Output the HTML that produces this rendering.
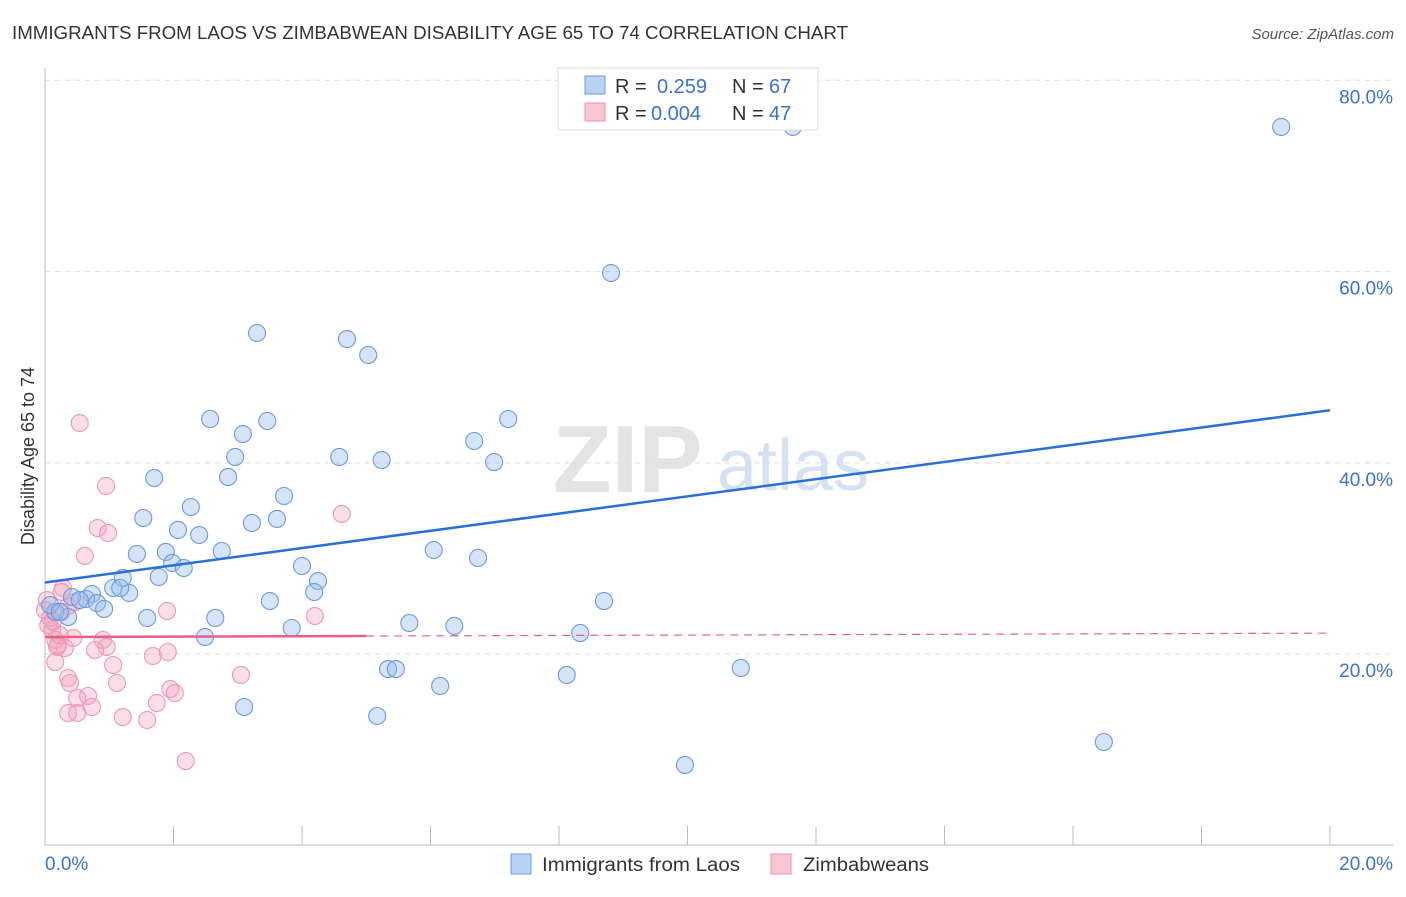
<!DOCTYPE html>
<html><head><meta charset="utf-8"><style>
body{margin:0;background:#fff;font-family:"Liberation Sans",sans-serif;}
svg text{font-family:"Liberation Sans",sans-serif;}
</style></head><body>
<svg id="chart" width="1406" height="892" xmlns="http://www.w3.org/2000/svg">
<text x="12" y="39" font-size="18" fill="#333" textLength="836" lengthAdjust="spacingAndGlyphs">IMMIGRANTS FROM LAOS VS ZIMBABWEAN DISABILITY AGE 65 TO 74 CORRELATION CHART</text>
<text x="1394" y="39" font-size="15" fill="#555" font-style="italic" text-anchor="end">Source: ZipAtlas.com</text>
<g>
<text x="553" y="492" font-size="96" fill="#e4e4e4" font-family="Liberation Serif" font-weight="bold">ZIP</text>
<text x="717" y="490" font-size="72" fill="#d4e2f4">atlas</text>
</g>
<g id="grid"></g>
<g id="axes"></g>
<g id="marks"></g>
<text transform="translate(34,456) rotate(-90)" font-size="18" fill="#333" text-anchor="middle">Disability Age 65 to 74</text>
<g>
<rect x="558" y="68" width="260" height="62" fill="#fff" stroke="#ddd"/>
<rect x="585" y="76" width="20" height="18" fill="#b8d2f4" stroke="#6a9be0"/>
<text x="615" y="93" font-size="20" fill="#333">R = <tspan fill="#3a72d0" x="657">0.259</tspan><tspan x="732" fill="#333">N = </tspan><tspan fill="#3a72d0" x="769">67</tspan></text>
<rect x="585" y="103" width="20" height="18" fill="#f9c6d4" stroke="#ec8fac"/>
<text x="615" y="120" font-size="20" fill="#333">R = <tspan fill="#3a72d0" x="651">0.004</tspan><tspan x="732" fill="#333">N = </tspan><tspan fill="#3a72d0" x="769">47</tspan></text>
</g>
<g>
<rect x="511" y="854" width="20" height="20" fill="#b8d2f4" stroke="#6a9be0"/>
<text x="542" y="871" font-size="19" fill="#333" textLength="198" lengthAdjust="spacingAndGlyphs">Immigrants from Laos</text>
<rect x="771" y="854" width="20" height="20" fill="#f9c6d4" stroke="#ec8fac"/>
<text x="803" y="871" font-size="19" fill="#333" textLength="126" lengthAdjust="spacingAndGlyphs">Zimbabweans</text>
</g>
</svg>
<script>
const yTicks=[20,40,60,80];
const yTickLabels=["20.0%","40.0%","60.0%","80.0%"];
const xTicks=[0,2,4,6,8,10,12,14,16,18,20];
const xTickLabels=["0.0%","20.0%"];
const laosX=[11.64,19.24,8.81,3.30,4.70,5.03,2.57,3.46,7.21,3.08,6.68,2.96,4.58,5.24,6.99,1.70,2.85,2.27,1.53,3.72,3.22,3.61,2.07,2.40,1.43,1.88,2.75,6.05,6.74,1.98,2.16,4.00,1.77,1.21,4.25,4.19,1.06,1.31,1.17,0.73,0.64,0.42,0.54,0.81,0.92,3.50,8.70,1.59,2.65,0.36,0.16,0.08,0.23,5.67,6.37,3.84,8.33,2.49,5.34,5.46,10.83,8.12,6.15,3.10,5.17,16.48,9.96];
const laosY=[75.12,75.12,59.85,53.58,52.95,51.28,44.59,44.38,44.59,43.02,42.29,40.62,40.62,40.30,40.09,38.42,38.53,35.39,34.24,36.54,33.72,34.14,32.99,32.46,30.48,30.69,30.79,30.89,30.06,29.54,29.01,29.22,28.07,27.97,27.65,26.50,26.92,26.40,26.92,26.29,25.77,25.98,25.66,25.35,24.73,25.56,25.56,23.79,23.79,23.89,24.42,25.14,24.42,23.26,22.95,22.74,22.22,21.80,18.45,18.45,18.56,17.83,16.68,14.48,13.54,10.82,8.42];
const zimX=[0.54,0.95,0.82,0.98,0.62,0.28,1.90,4.20,4.62,0.44,0.90,0.96,0.78,0.19,0.31,1.68,1.91,1.06,0.16,3.05,0.36,0.39,1.12,0.50,0.67,0.73,1.95,2.02,1.74,0.36,0.50,1.21,1.59,2.19,0.03,0.08,0.11,0.16,0.26,0.47,0.26,0.05,0.20,0.36,0.00,0.12,0.23];
const zimY=[44.17,37.59,33.19,32.67,30.27,26.92,24.52,23.99,34.66,21.69,21.49,20.75,20.44,20.75,20.65,19.81,20.23,18.87,19.18,17.83,17.51,16.99,16.99,15.42,15.63,14.48,16.36,15.94,14.90,13.85,13.85,13.43,13.12,8.83,25.66,23.79,22.53,21.49,24.42,25.45,26.50,23.05,20.96,25.03,24.60,23.40,22.00];
const laosTrend=[27.5,45.5];
const zimTrend=[21.8,22.2];
const zimSolidEnd=5;
const NS="http://www.w3.org/2000/svg";
const X0=45,X1=1330,Y0=845.5,YS=191.3/20;
function sx(v){return X0+(v/20)*(X1-X0);}
function sy(v){return Y0-v*YS;}
function mk(tag,attrs,parent){const e=document.createElementNS(NS,tag);for(const k in attrs)e.setAttribute(k,attrs[k]);parent.appendChild(e);return e;}
const grid=document.getElementById('grid'),axes=document.getElementById('axes'),marks=document.getElementById('marks');
yTicks.forEach((t,i)=>{
 const l=mk('line',{x1:X0,x2:1393,y1:sy(t),y2:sy(t),stroke:'#ddd','stroke-dasharray':'5,5'},grid);
 
 
 const tx=mk('text',{x:1393,y:sy(t)+23,'font-size':19,fill:'#3a72d0','text-anchor':'end'},axes);
 tx.textContent=yTickLabels[i];
 
 
});
const ya=mk('line',{x1:X0,x2:X0,y1:68,y2:845,stroke:'#bbb'},axes);


const xa=mk('line',{x1:X0,x2:1393,y1:845,y2:845,stroke:'#bbb'},axes);


xTicks.forEach(t=>{
 const l=mk('line',{x1:sx(t),x2:sx(t),y1:826,y2:845,stroke:'#bbb'},axes);
 
 
});
const xl0=mk('text',{x:45,y:870,'font-size':19,fill:'#3a72d0'},axes);
xl0.textContent=xTickLabels[0];


const xl1=mk('text',{x:1393,y:870,'font-size':19,fill:'#3a72d0','text-anchor':'end'},axes);
xl1.textContent=xTickLabels[1];


zimX.forEach((v,i)=>{
 const c=mk('circle',{cx:sx(v),cy:sy(zimY[i]),r:8.5,fill:'rgba(244,160,186,0.35)',stroke:'#ee98b3','stroke-width':1.1},marks);
 
 
});
laosX.forEach((v,i)=>{
 const c=mk('circle',{cx:sx(v),cy:sy(laosY[i]),r:8.5,fill:'rgba(150,188,236,0.4)',stroke:'#6b9ade','stroke-width':1.1},marks);
 
 
});
const lt=mk('line',{x1:sx(0),x2:sx(20),y1:sy(laosTrend[0]),y2:sy(laosTrend[1]),stroke:'#2a6fd6','stroke-width':2.5},marks);


const zMid=zimTrend[0]+(zimTrend[1]-zimTrend[0])*zimSolidEnd/20;
const zt=mk('line',{x1:sx(0),x2:sx(zimSolidEnd),y1:sy(zimTrend[0]),y2:sy(zMid),stroke:'#e8608a','stroke-width':2.5},marks);


const zd=mk('line',{x1:sx(zimSolidEnd),x2:sx(20),y1:sy(zMid),y2:sy(zimTrend[1]),stroke:'#e8608a','stroke-width':1.2,'stroke-dasharray':'8,6'},marks);


</script>
</body></html>
